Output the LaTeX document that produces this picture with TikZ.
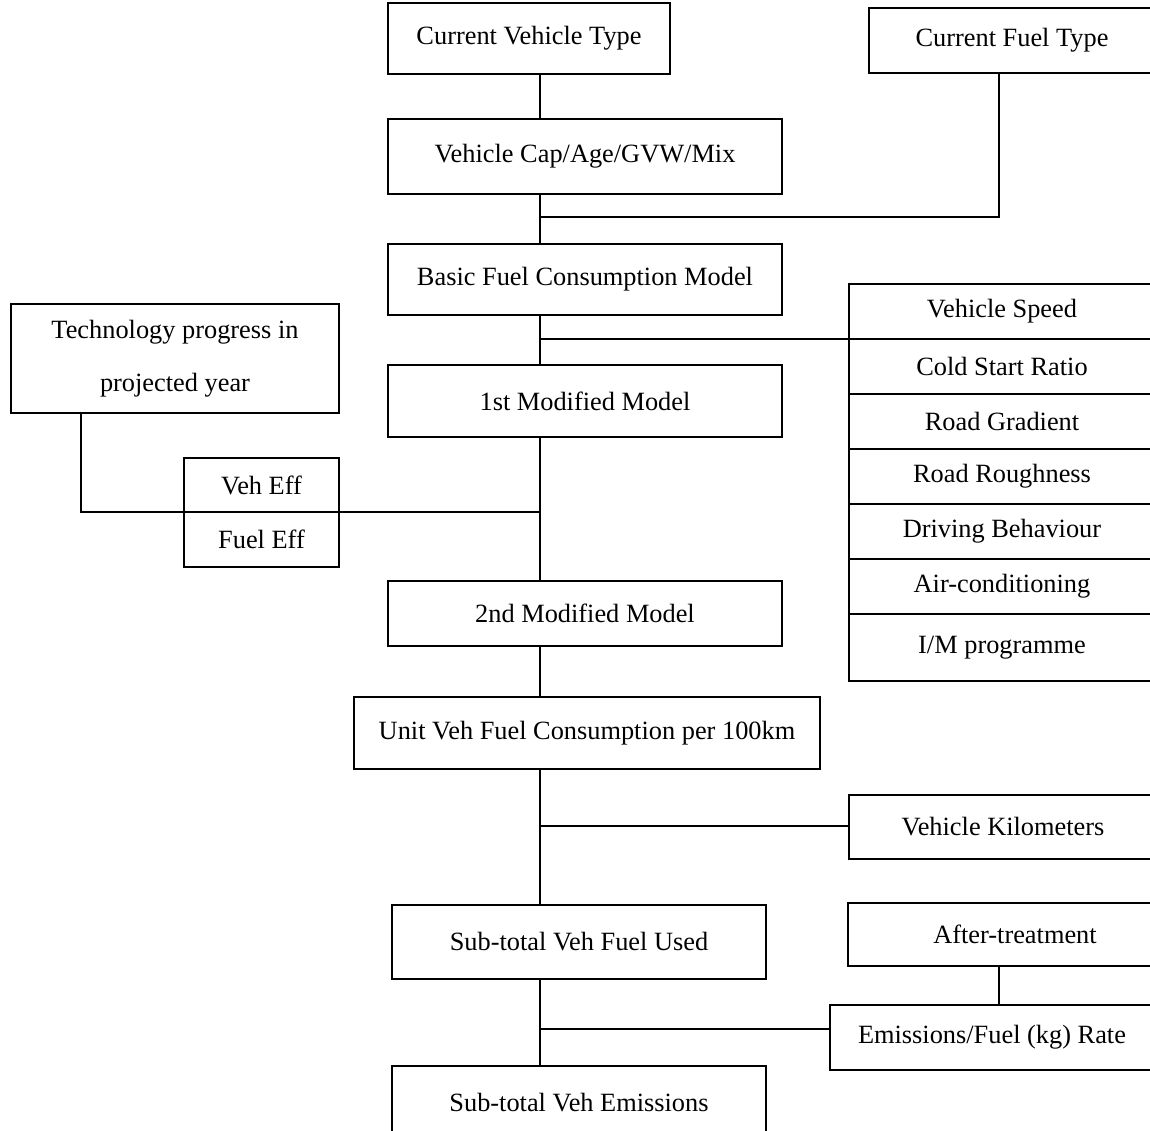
\documentclass[tikz,border=0pt]{standalone}
\usepackage{fontspec}
\setmainfont{Liberation Serif}
\usetikzlibrary{positioning}
\begin{document}
\begin{tikzpicture}[x=0.02cm, y=-0.02cm,
  box/.style={draw, line width=0.9pt, inner sep=0pt, outer sep=0pt, font=\fontsize{15}{18}\selectfont},
  cell/.style={box, minimum width=6.12cm, minimum height=1.1cm},
  link/.style={line width=0.9pt}]
\useasboundingbox (0,0) rectangle (1150,1131);
% main column
\node[box, minimum width=5.64cm, minimum height=1.42cm] (vtype) at (529,38.5) {Current Vehicle Type};
\node[box, minimum width=5.72cm, minimum height=1.30cm] (ftype) at (1012,40.5) {Current Fuel Type};
\node[box, minimum width=7.88cm, minimum height=1.50cm] (vcap) at (585,156.5) {Vehicle Cap/Age/GVW/Mix};
\node[box, minimum width=7.88cm, minimum height=1.42cm] (basic) at (585,279.5) {Basic Fuel Consumption Model};
\node[box, minimum width=7.88cm, minimum height=1.44cm] (modone) at (585,401) {1st Modified Model};
\node[box, minimum width=7.88cm, minimum height=1.30cm] (modtwo) at (585,613.5) {2nd Modified Model};
\node[box, minimum width=9.32cm, minimum height=1.44cm] (unit) at (587,733) {Unit Veh Fuel Consumption per 100km};
\node[box, minimum width=7.48cm, minimum height=1.48cm] (fuelused) at (579,942) {Sub-total Veh Fuel Used};
\node[box, minimum width=7.48cm, minimum height=1.48cm] (emis) at (579,1103) {Sub-total Veh Emissions};
% left side
\node[box, minimum width=6.56cm, minimum height=2.18cm, align=center, font=\fontsize{15}{30}\selectfont] (tech) at (175,358.5) {Technology progress in\\projected year};
\node[box, minimum width=3.10cm, minimum height=1.08cm] (veheff) at (261.5,485) {Veh Eff};
\node[box, minimum width=3.10cm, minimum height=1.10cm, below=0pt of veheff] (fueleff) {Fuel Eff};
% right side
\node[cell] (speed) at (1002,311.5) {Vehicle Speed};
\node[cell, below=0pt of speed] (cold) {Cold Start Ratio};
\node[cell, below=0pt of cold] (grad) {Road Gradient};
\node[cell, below=0pt of grad] (rough) {Road Roughness};
\node[cell, below=0pt of rough] (drive) {Driving Behaviour};
\node[cell, below=0pt of drive] (aircon) {Air-conditioning};
\node[cell, minimum height=1.34cm, below=0pt of aircon] (improg) {I/M programme};
\node[box, minimum width=6.16cm, minimum height=1.28cm] (vkm) at (1003,827) {Vehicle Kilometers};
\node[box, minimum width=6.68cm, minimum height=1.26cm] (after) at (1015,934.5) {After-treatment};
\node[box, minimum width=6.48cm, minimum height=1.30cm] (rate) at (992,1037.5) {Emissions/Fuel (kg) Rate};
% junctions
\coordinate (trunk) at (540,0);
\coordinate (jfuel) at (540,217);
\coordinate (jspeed) at (540,339);
\coordinate (jtech) at (541,512);
\coordinate (jvkm) at (540,826);
\coordinate (jrate) at (540,1029);
\coordinate (right) at (999,0);
\coordinate (left) at (81,0);
% connectors
\draw[link] (vtype.south -| trunk) -- (vcap.north -| trunk);
\draw[link] (vcap.south -| trunk) -- (basic.north -| trunk);
\draw[link] (jfuel) -| (ftype.south -| right);
\draw[link] (basic.south -| trunk) -- (modone.north -| trunk);
\draw[link] (jspeed) -- (speed.south west);
\draw[link] (modone.south -| trunk) -- (modtwo.north -| trunk);
\draw[link] (tech.south -| left) |- (jtech);
\draw[link] (modtwo.south -| trunk) -- (unit.north -| trunk);
\draw[link] (unit.south -| trunk) -- (fuelused.north -| trunk);
\draw[link] (jvkm) -- (jvkm -| vkm.west);
\draw[link] (fuelused.south -| trunk) -- (emis.north -| trunk);
\draw[link] (jrate) -- (jrate -| rate.west);
\draw[link] (after.south -| right) -- (rate.north -| right);
\end{tikzpicture}
\end{document}
